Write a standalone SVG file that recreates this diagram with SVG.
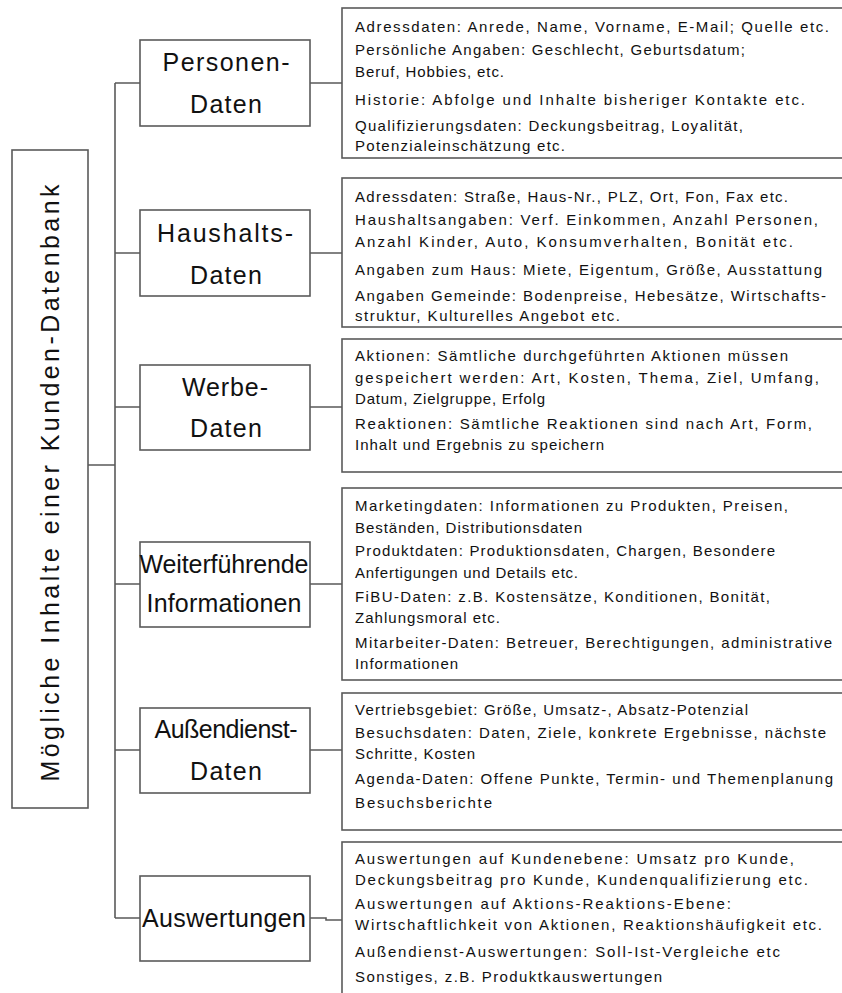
<svg xmlns="http://www.w3.org/2000/svg" width="842" height="993" viewBox="0 0 842 993">
<style>
.box{fill:#fff;stroke:#5a5a5a;stroke-width:1.6}
.ln{fill:none;stroke:#5a5a5a;stroke-width:1.6}
.cat{font-family:"Liberation Sans",Arial,sans-serif;font-size:25px;fill:#111;text-anchor:middle}
.t{font-family:"Liberation Sans",Arial,sans-serif;font-size:15px;fill:#111}
.root{font-family:"Liberation Sans",Arial,sans-serif;font-size:25px;fill:#111;text-anchor:middle}
</style>
<rect width="842" height="993" fill="#fff"/>
<g id="connectors">
<path class="ln" d="M88,465 H115 M115,83 V918 M115,83 H140 M115,253 H140 M115,407 H140 M115,584 H140 M115,750 H140 M115,918 H140"/>
<path class="ln" d="M310,83 H342 M310,253 H342 M310,407 H342 M310,584 H342 M310,750 H342 M310,918 H326 V920 H342"/>
</g>
<g id="root">
<rect class="box" x="12" y="150" width="76" height="658"/>
<text class="root" transform="translate(59,483) rotate(-90)" textLength="597" lengthAdjust="spacing">Mögliche Inhalte einer Kunden-Datenbank</text>
</g>
<g id="personen">
<rect class="box" x="140" y="40" width="170" height="86"/>
<text class="cat" x="226" y="71" textLength="127" lengthAdjust="spacing">Personen-</text>
<text class="cat" x="226" y="113" textLength="72" lengthAdjust="spacing">Daten</text>
</g>
<g id="haushalts">
<rect class="box" x="140" y="210" width="170" height="86"/>
<text class="cat" x="225" y="242" textLength="136" lengthAdjust="spacing">Haushalts-</text>
<text class="cat" x="226" y="284" textLength="72" lengthAdjust="spacing">Daten</text>
</g>
<g id="werbe">
<rect class="box" x="140" y="365" width="170" height="85"/>
<text class="cat" x="225" y="396" textLength="86" lengthAdjust="spacing">Werbe-</text>
<text class="cat" x="226" y="437" textLength="72" lengthAdjust="spacing">Daten</text>
</g>
<g id="weiter">
<rect class="box" x="140" y="542" width="170" height="85"/>
<text class="cat" x="224" y="573" textLength="169" lengthAdjust="spacing">Weiterführende</text>
<text class="cat" x="224" y="612" textLength="155" lengthAdjust="spacing">Informationen</text>
</g>
<g id="aussendienst">
<rect class="box" x="140" y="708" width="170" height="85"/>
<text class="cat" x="226" y="738" textLength="143" lengthAdjust="spacing">Außendienst-</text>
<text class="cat" x="226" y="780" textLength="72" lengthAdjust="spacing">Daten</text>
</g>
<g id="auswertungen">
<rect class="box" x="140" y="876" width="170" height="85"/>
<text class="cat" x="224" y="927" textLength="164" lengthAdjust="spacing">Auswertungen</text>
</g>
<g id="info-personen">
<rect class="box" x="342" y="8" width="520" height="150"/>
<text class="t" x="355" y="32" textLength="474" lengthAdjust="spacing">Adressdaten: Anrede, Name, Vorname,  E-Mail; Quelle etc.</text>
<text class="t" x="355" y="55" textLength="390" lengthAdjust="spacing">Persönliche Angaben: Geschlecht, Geburtsdatum;</text>
<text class="t" x="355" y="77" textLength="149" lengthAdjust="spacing">Beruf, Hobbies, etc.</text>
<text class="t" x="355" y="105" textLength="450" lengthAdjust="spacing">Historie: Abfolge und Inhalte bisheriger Kontakte etc.</text>
<text class="t" x="355" y="131" textLength="388" lengthAdjust="spacing">Qualifizierungsdaten: Deckungsbeitrag, Loyalität,</text>
<text class="t" x="355" y="151" textLength="210" lengthAdjust="spacing">Potenzialeinschätzung etc.</text>
</g>
<g id="info-haushalts">
<rect class="box" x="342" y="178" width="520" height="149"/>
<text class="t" x="355" y="202" textLength="433" lengthAdjust="spacing">Adressdaten: Straße, Haus-Nr., PLZ, Ort, Fon, Fax etc.</text>
<text class="t" x="355" y="225" textLength="463" lengthAdjust="spacing">Haushaltsangaben: Verf. Einkommen, Anzahl Personen,</text>
<text class="t" x="355" y="247" textLength="438" lengthAdjust="spacing">Anzahl Kinder, Auto, Konsumverhalten, Bonität etc.</text>
<text class="t" x="355" y="275" textLength="467" lengthAdjust="spacing">Angaben zum Haus: Miete, Eigentum, Größe, Ausstattung</text>
<text class="t" x="355" y="301" textLength="471" lengthAdjust="spacing">Angaben Gemeinde: Bodenpreise, Hebesätze, Wirtschafts-</text>
<text class="t" x="355" y="321" textLength="265" lengthAdjust="spacing">struktur, Kulturelles Angebot etc.</text>
</g>
<g id="info-werbe">
<rect class="box" x="342" y="339" width="520" height="133"/>
<text class="t" x="355" y="361" textLength="433" lengthAdjust="spacing">Aktionen: Sämtliche durchgeführten Aktionen müssen</text>
<text class="t" x="355" y="383" textLength="464" lengthAdjust="spacing">gespeichert werden: Art, Kosten, Thema, Ziel, Umfang,</text>
<text class="t" x="355" y="404" textLength="190" lengthAdjust="spacing">Datum, Zielgruppe, Erfolg</text>
<text class="t" x="355" y="429" textLength="457" lengthAdjust="spacing">Reaktionen: Sämtliche Reaktionen sind nach Art, Form,</text>
<text class="t" x="355" y="450" textLength="249" lengthAdjust="spacing">Inhalt und Ergebnis zu speichern</text>
</g>
<g id="info-weiter">
<rect class="box" x="342" y="488" width="520" height="192"/>
<text class="t" x="355" y="511" textLength="433" lengthAdjust="spacing">Marketingdaten: Informationen zu Produkten, Preisen,</text>
<text class="t" x="355" y="533" textLength="227" lengthAdjust="spacing">Beständen, Distributionsdaten</text>
<text class="t" x="355" y="556" textLength="420" lengthAdjust="spacing">Produktdaten: Produktionsdaten, Chargen, Besondere</text>
<text class="t" x="355" y="578" textLength="223" lengthAdjust="spacing">Anfertigungen und Details etc.</text>
<text class="t" x="355" y="602" textLength="415" lengthAdjust="spacing">FiBU-Daten: z.B. Kostensätze, Konditionen, Bonität,</text>
<text class="t" x="355" y="623" textLength="145" lengthAdjust="spacing">Zahlungsmoral etc.</text>
<text class="t" x="355" y="648" textLength="477" lengthAdjust="spacing">Mitarbeiter-Daten: Betreuer, Berechtigungen, administrative</text>
<text class="t" x="355" y="669" textLength="103" lengthAdjust="spacing">Informationen</text>
</g>
<g id="info-aussendienst">
<rect class="box" x="342" y="693" width="520" height="137"/>
<text class="t" x="355" y="715" textLength="393" lengthAdjust="spacing">Vertriebsgebiet: Größe, Umsatz-, Absatz-Potenzial</text>
<text class="t" x="355" y="738" textLength="471" lengthAdjust="spacing">Besuchsdaten: Daten, Ziele, konkrete Ergebnisse, nächste</text>
<text class="t" x="355" y="759" textLength="120" lengthAdjust="spacing">Schritte, Kosten</text>
<text class="t" x="355" y="784" textLength="478" lengthAdjust="spacing">Agenda-Daten: Offene Punkte, Termin- und Themenplanung</text>
<text class="t" x="355" y="808" textLength="137" lengthAdjust="spacing">Besuchsberichte</text>
</g>
<g id="info-auswertungen">
<rect class="box" x="342" y="842" width="520" height="170"/>
<text class="t" x="355" y="864" textLength="439" lengthAdjust="spacing">Auswertungen auf Kundenebene: Umsatz pro Kunde,</text>
<text class="t" x="355" y="885" textLength="453" lengthAdjust="spacing">Deckungsbeitrag pro Kunde, Kundenqualifizierung etc.</text>
<text class="t" x="355" y="909" textLength="376" lengthAdjust="spacing">Auswertungen auf Aktions-Reaktions-Ebene:</text>
<text class="t" x="355" y="930" textLength="467" lengthAdjust="spacing">Wirtschaftlichkeit von Aktionen, Reaktionshäufigkeit etc.</text>
<text class="t" x="355" y="957" textLength="425" lengthAdjust="spacing">Außendienst-Auswertungen: Soll-Ist-Vergleiche etc</text>
<text class="t" x="355" y="982" textLength="307" lengthAdjust="spacing">Sonstiges, z.B. Produktkauswertungen</text>
</g>
</svg>
